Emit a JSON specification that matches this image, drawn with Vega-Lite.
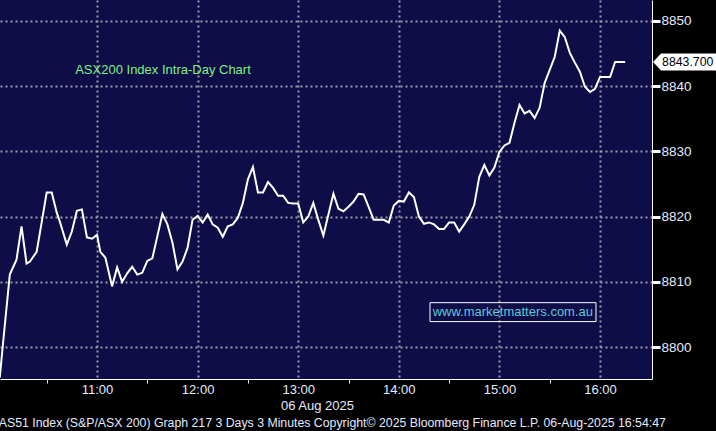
{
  "$schema": "https://vega.github.io/schema/vega-lite/v6.json",
  "width": 652,
  "height": 379,
  "autosize": {"type": "none"},
  "padding": {"left": 0, "top": 0, "right": 64, "bottom": 52},
  "background": "#000000",
  "config": {
    "view": {"fill": "#0f0d48", "stroke": null},
    "font": "Liberation Sans"
  },
  "title": {
    "text": "AS51 Index (S&P/ASX 200) Graph 217 3 Days 3 Minutes Copyright© 2025 Bloomberg Finance L.P. 06-Aug-2025 16:54:47",
    "orient": "bottom",
    "anchor": "start",
    "fontSize": 12.3,
    "fontWeight": "normal",
    "color": "#e4eaff",
    "offset": 5,
    "dx": 3
  },
  "data": {
    "values": [
      {"t": "2025-08-06T10:02", "v": 8795.3},
      {"t": "2025-08-06T10:04", "v": 8800.7},
      {"t": "2025-08-06T10:08", "v": 8811.1},
      {"t": "2025-08-06T10:12", "v": 8813.4},
      {"t": "2025-08-06T10:15", "v": 8818.5},
      {"t": "2025-08-06T10:18", "v": 8812.8},
      {"t": "2025-08-06T10:20", "v": 8813.1},
      {"t": "2025-08-06T10:24", "v": 8814.6},
      {"t": "2025-08-06T10:27", "v": 8819.1},
      {"t": "2025-08-06T10:30", "v": 8823.7},
      {"t": "2025-08-06T10:33", "v": 8823.7},
      {"t": "2025-08-06T10:36", "v": 8820.6},
      {"t": "2025-08-06T10:38", "v": 8819.1},
      {"t": "2025-08-06T10:42", "v": 8815.7},
      {"t": "2025-08-06T10:45", "v": 8817.7},
      {"t": "2025-08-06T10:48", "v": 8820.9},
      {"t": "2025-08-06T10:51", "v": 8821.1},
      {"t": "2025-08-06T10:54", "v": 8816.8},
      {"t": "2025-08-06T10:57", "v": 8816.6},
      {"t": "2025-08-06T11:00", "v": 8817.2},
      {"t": "2025-08-06T11:02", "v": 8814.6},
      {"t": "2025-08-06T11:05", "v": 8813.7},
      {"t": "2025-08-06T11:09", "v": 8809.3},
      {"t": "2025-08-06T11:12", "v": 8812.2},
      {"t": "2025-08-06T11:15", "v": 8810.0},
      {"t": "2025-08-06T11:18", "v": 8811.3},
      {"t": "2025-08-06T11:21", "v": 8812.3},
      {"t": "2025-08-06T11:24", "v": 8811.1},
      {"t": "2025-08-06T11:27", "v": 8811.4},
      {"t": "2025-08-06T11:30", "v": 8813.2},
      {"t": "2025-08-06T11:33", "v": 8813.6},
      {"t": "2025-08-06T11:36", "v": 8817.0},
      {"t": "2025-08-06T11:39", "v": 8820.4},
      {"t": "2025-08-06T11:42", "v": 8818.8},
      {"t": "2025-08-06T11:45", "v": 8816.0},
      {"t": "2025-08-06T11:48", "v": 8811.9},
      {"t": "2025-08-06T11:51", "v": 8813.1},
      {"t": "2025-08-06T11:54", "v": 8815.2},
      {"t": "2025-08-06T11:57", "v": 8819.5},
      {"t": "2025-08-06T12:00", "v": 8820.1},
      {"t": "2025-08-06T12:03", "v": 8819.1},
      {"t": "2025-08-06T12:06", "v": 8820.3},
      {"t": "2025-08-06T12:09", "v": 8818.8},
      {"t": "2025-08-06T12:12", "v": 8818.3},
      {"t": "2025-08-06T12:15", "v": 8816.9},
      {"t": "2025-08-06T12:18", "v": 8818.5},
      {"t": "2025-08-06T12:21", "v": 8818.8},
      {"t": "2025-08-06T12:24", "v": 8819.8},
      {"t": "2025-08-06T12:27", "v": 8822.1},
      {"t": "2025-08-06T12:30", "v": 8825.7},
      {"t": "2025-08-06T12:33", "v": 8827.6},
      {"t": "2025-08-06T12:36", "v": 8823.7},
      {"t": "2025-08-06T12:39", "v": 8823.7},
      {"t": "2025-08-06T12:42", "v": 8825.3},
      {"t": "2025-08-06T12:45", "v": 8824.4},
      {"t": "2025-08-06T12:48", "v": 8823.2},
      {"t": "2025-08-06T12:51", "v": 8823.2},
      {"t": "2025-08-06T12:54", "v": 8822.1},
      {"t": "2025-08-06T12:57", "v": 8822.0},
      {"t": "2025-08-06T13:00", "v": 8822.0},
      {"t": "2025-08-06T13:03", "v": 8819.1},
      {"t": "2025-08-06T13:06", "v": 8820.0},
      {"t": "2025-08-06T13:09", "v": 8822.1},
      {"t": "2025-08-06T13:12", "v": 8819.5},
      {"t": "2025-08-06T13:15", "v": 8817.1},
      {"t": "2025-08-06T13:18", "v": 8820.3},
      {"t": "2025-08-06T13:21", "v": 8823.5},
      {"t": "2025-08-06T13:24", "v": 8821.2},
      {"t": "2025-08-06T13:27", "v": 8820.8},
      {"t": "2025-08-06T13:30", "v": 8821.5},
      {"t": "2025-08-06T13:33", "v": 8822.3},
      {"t": "2025-08-06T13:36", "v": 8823.5},
      {"t": "2025-08-06T13:39", "v": 8823.4},
      {"t": "2025-08-06T13:42", "v": 8821.5},
      {"t": "2025-08-06T13:45", "v": 8819.5},
      {"t": "2025-08-06T13:48", "v": 8819.5},
      {"t": "2025-08-06T13:51", "v": 8819.5},
      {"t": "2025-08-06T13:54", "v": 8819.1},
      {"t": "2025-08-06T13:57", "v": 8821.7},
      {"t": "2025-08-06T14:00", "v": 8822.4},
      {"t": "2025-08-06T14:03", "v": 8822.3},
      {"t": "2025-08-06T14:06", "v": 8823.7},
      {"t": "2025-08-06T14:09", "v": 8823.0},
      {"t": "2025-08-06T14:12", "v": 8820.0},
      {"t": "2025-08-06T14:15", "v": 8818.9},
      {"t": "2025-08-06T14:18", "v": 8819.1},
      {"t": "2025-08-06T14:21", "v": 8818.8},
      {"t": "2025-08-06T14:24", "v": 8818.1},
      {"t": "2025-08-06T14:27", "v": 8818.1},
      {"t": "2025-08-06T14:30", "v": 8819.1},
      {"t": "2025-08-06T14:33", "v": 8819.1},
      {"t": "2025-08-06T14:36", "v": 8817.7},
      {"t": "2025-08-06T14:39", "v": 8818.8},
      {"t": "2025-08-06T14:42", "v": 8820.0},
      {"t": "2025-08-06T14:45", "v": 8821.8},
      {"t": "2025-08-06T14:48", "v": 8826.1},
      {"t": "2025-08-06T14:51", "v": 8827.9},
      {"t": "2025-08-06T14:54", "v": 8826.3},
      {"t": "2025-08-06T14:57", "v": 8827.5},
      {"t": "2025-08-06T15:00", "v": 8829.9},
      {"t": "2025-08-06T15:03", "v": 8830.9},
      {"t": "2025-08-06T15:06", "v": 8831.3},
      {"t": "2025-08-06T15:09", "v": 8834.4},
      {"t": "2025-08-06T15:12", "v": 8837.1},
      {"t": "2025-08-06T15:15", "v": 8835.8},
      {"t": "2025-08-06T15:18", "v": 8836.2},
      {"t": "2025-08-06T15:21", "v": 8835.1},
      {"t": "2025-08-06T15:24", "v": 8836.7},
      {"t": "2025-08-06T15:27", "v": 8840.5},
      {"t": "2025-08-06T15:30", "v": 8842.5},
      {"t": "2025-08-06T15:33", "v": 8844.5},
      {"t": "2025-08-06T15:36", "v": 8848.5},
      {"t": "2025-08-06T15:39", "v": 8847.5},
      {"t": "2025-08-06T15:42", "v": 8845.1},
      {"t": "2025-08-06T15:45", "v": 8843.6},
      {"t": "2025-08-06T15:48", "v": 8842.2},
      {"t": "2025-08-06T15:51", "v": 8839.9},
      {"t": "2025-08-06T15:54", "v": 8839.1},
      {"t": "2025-08-06T15:57", "v": 8839.6},
      {"t": "2025-08-06T16:00", "v": 8841.4},
      {"t": "2025-08-06T16:03", "v": 8841.4},
      {"t": "2025-08-06T16:06", "v": 8841.4},
      {"t": "2025-08-06T16:09", "v": 8843.7},
      {"t": "2025-08-06T16:12", "v": 8843.7},
      {"t": "2025-08-06T16:15", "v": 8843.7}
    ]
  },
  "layer": [
    {
      "mark": {"type": "line", "color": "#ffffff", "strokeWidth": 2},
      "encoding": {
        "x": {
          "field": "t",
          "type": "temporal",
          "scale": {
            "domain": [
              {"year": 2025, "month": 8, "date": 6, "hours": 10, "minutes": 2, "seconds": 9},
              {"year": 2025, "month": 8, "date": 6, "hours": 16, "minutes": 31}
            ]
          },
          "axis": {
            "values": [
              {"year": 2025, "month": 8, "date": 6, "hours": 10, "minutes": 30},
              {"year": 2025, "month": 8, "date": 6, "hours": 11, "minutes": 0},
              {"year": 2025, "month": 8, "date": 6, "hours": 11, "minutes": 30},
              {"year": 2025, "month": 8, "date": 6, "hours": 12, "minutes": 0},
              {"year": 2025, "month": 8, "date": 6, "hours": 12, "minutes": 30},
              {"year": 2025, "month": 8, "date": 6, "hours": 13, "minutes": 0},
              {"year": 2025, "month": 8, "date": 6, "hours": 13, "minutes": 30},
              {"year": 2025, "month": 8, "date": 6, "hours": 14, "minutes": 0},
              {"year": 2025, "month": 8, "date": 6, "hours": 14, "minutes": 30},
              {"year": 2025, "month": 8, "date": 6, "hours": 15, "minutes": 0},
              {"year": 2025, "month": 8, "date": 6, "hours": 15, "minutes": 30},
              {"year": 2025, "month": 8, "date": 6, "hours": 16, "minutes": 0}
            ],
            "format": "%H:%M",
            "labelExpr": "minutes(datum.value) == 0 ? datum.label : ''",
            "grid": true,
            "gridColor": "#9a9aa8",
            "gridDash": [2, 3],
            "gridWidth": 2,
            "gridOpacity": {"condition": {"test": "minutes(datum.value) == 0", "value": 1}, "value": 0},
            "ticks": true,
            "tickColor": "#ffffff",
            "tickSize": 4,
            "tickOpacity": {"condition": {"test": "minutes(datum.value) == 0", "value": 0}, "value": 1},
            "domainColor": "#ffffff",
            "domainWidth": 1,
            "labelColor": "#e4eaff",
            "labelFontSize": 13,
            "labelPadding": 0,
            "labelFlush": false,
            "labelOverlap": false,
            "title": "06 Aug 2025",
            "titleColor": "#e4eaff",
            "titleFontSize": 13,
            "titleFontWeight": "normal",
            "titlePadding": 3,
            "titleX": 317
          }
        },
        "y": {
          "field": "v",
          "type": "quantitative",
          "scale": {"domain": [8795.1, 8853.2], "nice": false, "zero": false},
          "axis": {
            "orient": "right",
            "values": [8800, 8805, 8810, 8815, 8820, 8825, 8830, 8835, 8840, 8845, 8850],
            "format": "d",
            "labelExpr": "datum.value % 10 == 0 ? datum.label : ''",
            "grid": true,
            "gridColor": "#9a9aa8",
            "gridDash": [2, 3],
            "gridWidth": 2,
            "gridOpacity": {"condition": {"test": "datum.value % 10 == 0", "value": 1}, "value": 0},
            "tickColor": "#ffffff",
            "tickSize": {"condition": {"test": "datum.value % 10 == 0", "value": 8}, "value": 3},
            "tickWidth": {"condition": {"test": "datum.value % 10 == 0", "value": 3}, "value": 1},
            "domainColor": "#ffffff",
            "labelColor": "#e4eaff",
            "labelFontSize": 13.5,
            "labelPadding": 1,
            "labelOverlap": false,
            "labelFlush": false,
            "title": null
          }
        }
      }
    },
    {
      "data": {"values": [{"note": "ASX200 Index Intra-Day Chart"}]},
      "mark": {"type": "text", "align": "left", "baseline": "middle", "color": "#7ef07e", "fontSize": 13},
      "encoding": {
        "x": {"datum": {"year": 2025, "month": 8, "date": 6, "hours": 10, "minutes": 47}, "type": "temporal"},
        "y": {"datum": 8842.4, "type": "quantitative"},
        "text": {"field": "note"}
      }
    },
    {
      "data": {"values": [{"note": "www.marketmatters.com.au"}]},
      "mark": {"type": "rect", "fill": "transparent", "stroke": "#ffffff", "strokeWidth": 1},
      "encoding": {
        "x": {"datum": {"year": 2025, "month": 8, "date": 6, "hours": 14, "minutes": 18, "seconds": 36}, "type": "temporal"},
        "x2": {"datum": {"year": 2025, "month": 8, "date": 6, "hours": 15, "minutes": 57, "seconds": 36}},
        "y": {"datum": 8806.8, "type": "quantitative"},
        "y2": {"datum": 8803.9}
      }
    },
    {
      "data": {"values": [{"note": "www.marketmatters.com.au"}]},
      "mark": {"type": "text", "align": "center", "baseline": "middle", "color": "#5cc8d8", "fontSize": 13},
      "encoding": {
        "x": {"datum": {"year": 2025, "month": 8, "date": 6, "hours": 15, "minutes": 8}, "type": "temporal"},
        "y": {"datum": 8805.35, "type": "quantitative"},
        "text": {"field": "note"}
      }
    },
    {
      "data": {"values": [{"last": 8843.7}]},
      "mark": {
        "type": "point",
        "shape": "M-1,0 L-0.75,-0.266 L1,-0.266 L1,0.266 L-0.75,0.266 Z",
        "size": 4096,
        "filled": true,
        "color": "#ffffff",
        "opacity": 1,
        "strokeWidth": 0
      },
      "encoding": {
        "x": {"datum": {"year": 2025, "month": 8, "date": 6, "hours": 16, "minutes": 50, "seconds": 42}, "type": "temporal"},
        "y": {"field": "last", "type": "quantitative"}
      }
    },
    {
      "data": {"values": [{"last": 8843.7}]},
      "mark": {"type": "text", "align": "left", "baseline": "middle", "color": "#000000", "fontSize": 12.3},
      "encoding": {
        "x": {"datum": {"year": 2025, "month": 8, "date": 6, "hours": 16, "minutes": 37}, "type": "temporal"},
        "y": {"field": "last", "type": "quantitative"},
        "text": {"field": "last", "type": "quantitative", "format": ".3f"}
      }
    }
  ]
}
